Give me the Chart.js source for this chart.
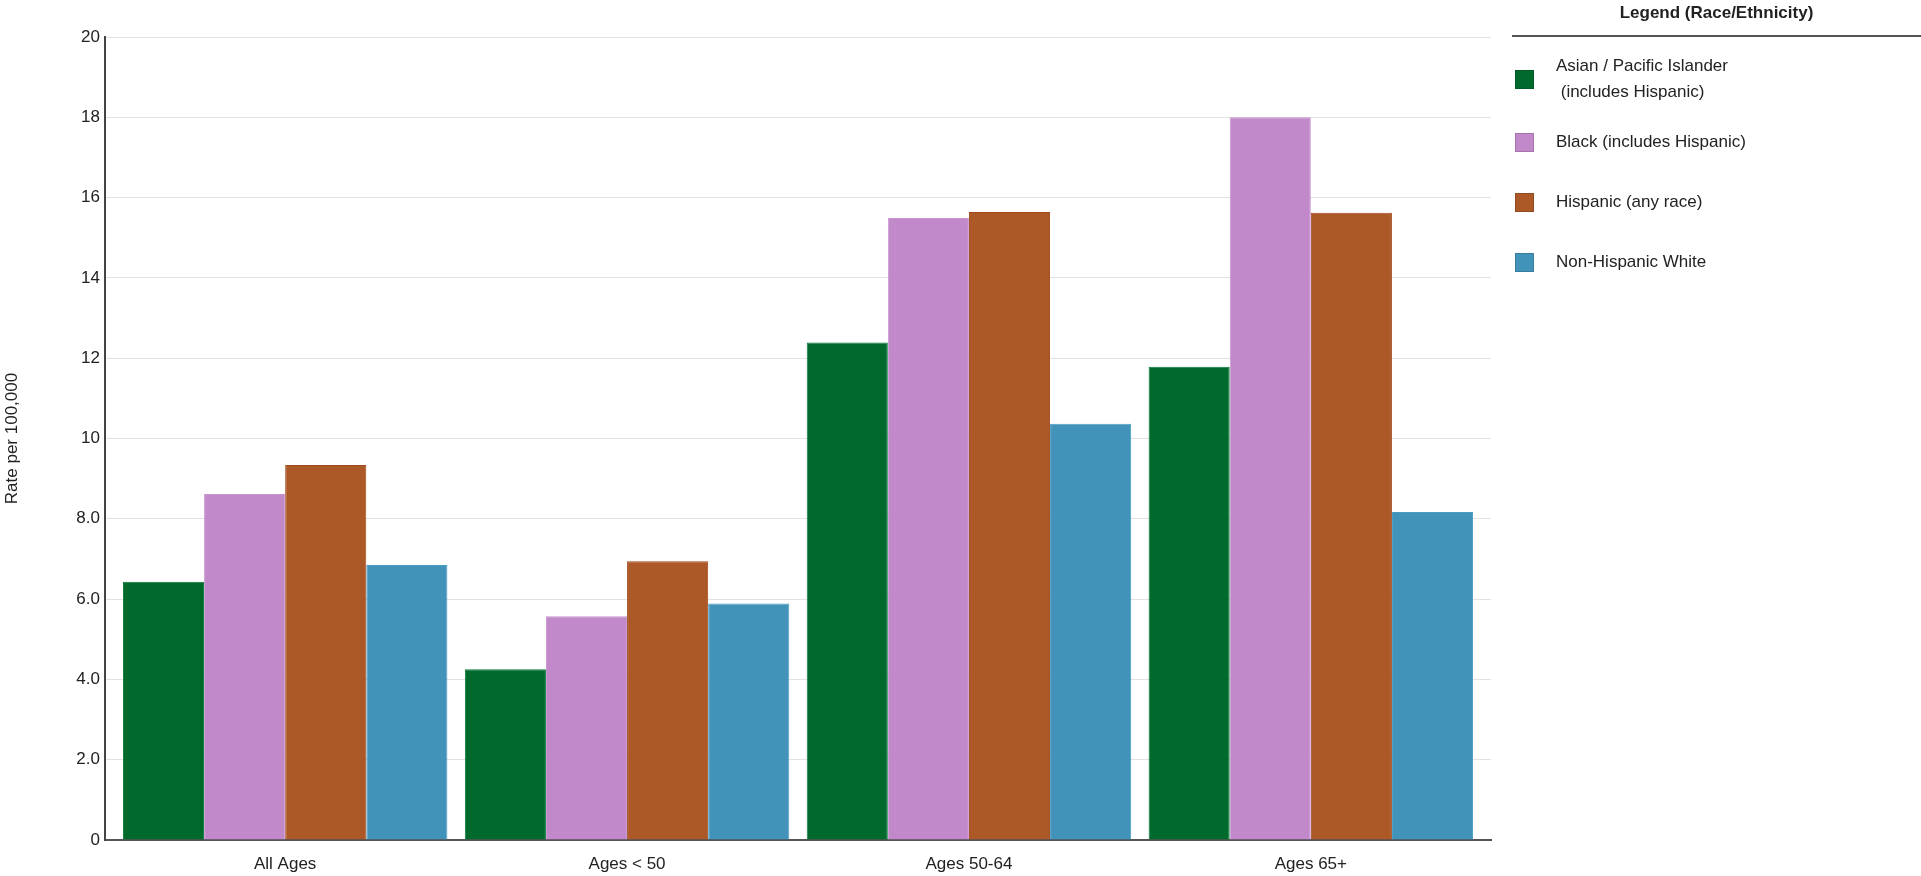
<!DOCTYPE html>
<html>
<head>
<meta charset="utf-8">
<script src="https://cdn.jsdelivr.net/npm/chart.js@4/dist/chart.umd.min.js"></script>
<style>
  html, body { margin: 0; padding: 0; background: #fff; }
  #wrap { position: relative; width: 1921px; height: 876px; font-family: "Liberation Sans", Arial, sans-serif; }
  #legend { position: absolute; left: 1512px; top: 0; width: 409px; color: #222; }
  #legend .title { text-align: center; font-weight: bold; font-size: 17px; height: 35px; line-height: 26px; border-bottom: 2px solid #555; }
  #legend .item { position: absolute; left: 3px; display: flex; align-items: center; font-size: 17px; line-height: 26px; }
  #legend .sw { width: 19px; height: 19px; margin-right: 22px; box-sizing: border-box; border: 1px solid rgba(0,0,0,0.15); }
  #legend .txt { white-space: pre; }
</style>
</head>
<body>
<div id="wrap">
  <canvas id="chart" width="1921" height="876"></canvas>
  <div id="legend"><div class="title">Legend (Race/Ethnicity)</div></div>
</div>
<script>
const categories = ["All Ages", "Ages < 50", "Ages 50-64", "Ages 65+"];
const seriesNames = ["Asian / Pacific Islander\n (includes Hispanic)", "Black (includes Hispanic)", "Hispanic (any race)", "Non-Hispanic White"];
const asianPI = [6.43, 4.25, 12.39, 11.79];
const black = [8.62, 5.57, 15.49, 18.0];
const hispanic = [9.34, 6.94, 15.64, 15.62];
const nhWhite = [6.85, 5.89, 10.37, 8.17];
const colors = ["#006a2d", "#c189c9", "#ac5827", "#4293b9"];
const borders = ["#0a7a3a", "#c996d0", "#a24a1c", "#4a9cc2"];
const legendY = [79, 142, 202, 262];

// bars sit on a linear x axis so the outer groups keep a small margin from the axes
const series = [asianPI, black, hispanic, nhWhite];
const datasets = series.map((vals, i) => ({
  label: seriesNames[i],
  data: vals.map((v, j) => ({ x: j, y: v })),
  backgroundColor: colors[i],
  borderColor: borders[i],
  borderWidth: 1,
  barPercentage: 1,
  categoryPercentage: 0.949
}));

const legendEl = document.getElementById("legend");
seriesNames.forEach((name, i) => {
  const item = document.createElement("div");
  item.className = "item";
  const lines = name.split("\n").length;
  item.style.top = (legendY[i] - lines * 13) + "px";
  item.innerHTML = '<div class="sw" style="background:' + colors[i] + '"></div><div class="txt"></div>';
  item.querySelector(".txt").textContent = name;
  legendEl.appendChild(item);
});

const font = { family: "Liberation Sans", size: 17 };
const ctx = document.getElementById("chart").getContext("2d");
new Chart(ctx, {
  type: "bar",
  data: { datasets },
  options: {
    responsive: false,
    animation: false,
    layout: { padding: { top: 37, right: 430, bottom: 0, left: 0 } },
    plugins: { legend: { display: false }, tooltip: { enabled: false } },
    scales: {
      x: {
        type: "linear",
        offset: false,
        min: -0.527, max: categories.length - 1 + 0.527,
        grid: { display: false, drawTicks: false, offset: false },
        border: { color: "#555", width: 2 },
        afterBuildTicks: s => { s.ticks = categories.map((c, i) => ({ value: i })); },
        ticks: { color: "#222", font, padding: 14, callback: v => categories[v] },
        afterFit: s => { s.height = 36; }
      },
      y: {
        min: 0, max: 20,
        ticks: {
          stepSize: 2,
          color: "#222",
          font,
          padding: 5,
          callback: v => v === 0 ? "0" : (v < 10 ? v.toFixed(1) : String(v))
        },
        grid: { color: "#e2e2e2", lineWidth: 1, drawTicks: false },
        border: { color: "#444", width: 2 },
        title: { display: true, text: "Rate per 100,000", color: "#222", font, padding: 2 },
        afterFit: s => { s.width = 105; }
      }
    }
  }
});
</script>
</body>
</html>
